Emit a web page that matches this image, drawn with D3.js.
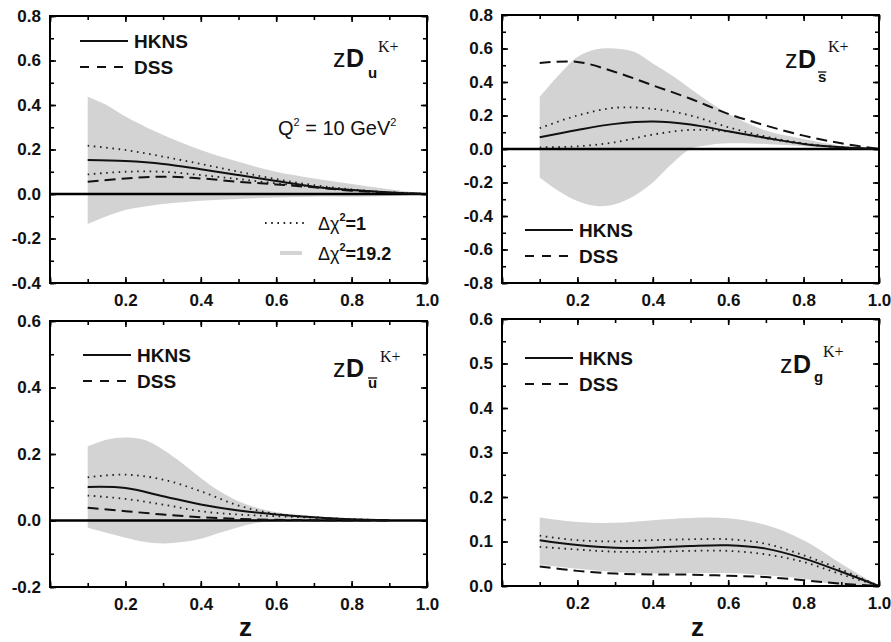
<!DOCTYPE html>
<html>
<head>
<meta charset="utf-8">
<script src="https://cdn.jsdelivr.net/npm/d3@7"></script>
<style>
body { margin:0; background:#fff; }
svg { display:block; }
</style>
</head>
<body>
<div id="chart"></div>
<script>
// z grids
var zLine = [0.1,0.2,0.3,0.4,0.5,0.6,0.7,0.8,0.9,1.0];
var zLineUbar = [0.1,0.2,0.3,0.4,0.5,0.6,0.7,0.8,0.9];
var zBandU = [0.1,0.15,0.2,0.3,0.4,0.5,0.6,0.7,0.8,0.9,1.0];
var zBandS = [0.1,0.15,0.2,0.25,0.3,0.35,0.4,0.45,0.5,0.55,0.6,0.7,0.8,0.9,1.0];
var zBandUbar = [0.1,0.15,0.2,0.25,0.3,0.35,0.4,0.45,0.5,0.55,0.6,0.7,0.8,0.9];

// zD_u
var uHKNS  = [0.153,0.148,0.135,0.111,0.085,0.058,0.033,0.018,0.007,0];
var uDSS   = [0.055,0.070,0.078,0.070,0.055,0.043,0.030,0.015,0.006,0];
var uHi1   = [0.217,0.198,0.168,0.135,0.100,0.067,0.040,0.021,0.008,0];
var uLo1   = [0.088,0.100,0.100,0.085,0.067,0.048,0.033,0.018,0.007,0];
var uBandHi = [0.437,0.400,0.348,0.265,0.198,0.145,0.100,0.070,0.045,0.021,0];
var uBandLo = [-0.135,-0.100,-0.072,-0.045,-0.030,-0.022,-0.016,-0.012,-0.012,-0.009,0];

// zD_sbar
var sHKNS  = [0.070,0.114,0.150,0.164,0.146,0.106,0.066,0.030,0.010,0];
var sDSS   = [0.514,0.520,0.460,0.380,0.300,0.210,0.140,0.080,0.034,0];
var sHi1   = [0.124,0.200,0.246,0.240,0.200,0.130,0.074,0.034,0.010,0];
var sLo1   = [0.010,0.016,0.040,0.086,0.114,0.104,0.064,0.030,0.010,0];
var sBandHi = [0.31,0.44,0.55,0.596,0.60,0.58,0.51,0.44,0.36,0.28,0.21,0.11,0.06,0.02,0];
var sBandLo = [-0.17,-0.25,-0.31,-0.34,-0.33,-0.28,-0.20,-0.09,0.0,0.024,0.034,0.03,0.016,0.004,0];

// zD_ubar
var ubHKNS = [0.101,0.098,0.073,0.048,0.030,0.018,0.010,0.004,0.001];
var ubDSS  = [0.038,0.028,0.018,0.010,0.005,0.002,0.001,0,0];
var ubHi1  = [0.130,0.138,0.123,0.088,0.045,0.020,0.010,0.004,0.001];
var ubLo1  = [0.075,0.065,0.048,0.028,0.018,0.013,0.008,0.003,0.001];
var ubBandHi = [0.223,0.243,0.250,0.243,0.213,0.173,0.128,0.088,0.058,0.038,0.025,0.013,0.006,0.002];
var ubBandLo = [-0.022,-0.037,-0.052,-0.064,-0.069,-0.065,-0.055,-0.037,-0.020,-0.007,-0.002,0,0,0];

// zD_g
var gHKNS  = [0.103,0.092,0.086,0.086,0.090,0.0915,0.084,0.062,0.032,0];
var gDSS   = [0.044,0.034,0.028,0.026,0.0255,0.023,0.020,0.013,0.005,0];
var gHi1   = [0.113,0.103,0.100,0.103,0.105,0.105,0.095,0.069,0.037,0];
var gLo1   = [0.088,0.082,0.077,0.077,0.079,0.079,0.071,0.054,0.026,0];
var gBandHi = [0.154,0.144,0.142,0.148,0.153,0.152,0.137,0.103,0.050,0];
var gBandLo = [0.048,0.039,0.0315,0.028,0.029,0.029,0.024,0.0165,0.0015,0];

var xTickLabels = [0.2,0.4,0.6,0.8,1.0];
var legendNames = ["HKNS","DSS"];

var W = 891, H = 642;
var svg = d3.select("#chart").append("svg").attr("width", W).attr("height", H);

var panels = [
  {x0:50, x1:427, y0:16, y1:283, ydom:[-0.4,0.8], ymaj:0.2, ymin:0.1,
   zl:zLine, hk:uHKNS, ds:uDSS, hi:uHi1, lo:uLo1, zb:zBandU, bh:uBandHi, bl:uBandLo,
   leg:[80,41], sub:"u", bar:false, lab:{zx:333, base:67, subx:368, subBase:78, kx:378, kBase:52}, xt:false},
  {x0:502, x1:879, y0:15, y1:283, ydom:[-0.8,0.8], ymaj:0.2, ymin:0.1,
   zl:zLine, hk:sHKNS, ds:sDSS, hi:sHi1, lo:sLo1, zb:zBandS, bh:sBandHi, bl:sBandLo,
   leg:[525,230], sub:"s", bar:true, lab:{zx:785, base:68, subx:818, subBase:82, kx:828, kBase:52}, xt:false},
  {x0:50, x1:427, y0:321, y1:587, ydom:[-0.2,0.6], ymaj:0.2, ymin:0.1,
   zl:zLineUbar, hk:ubHKNS, ds:ubDSS, hi:ubHi1, lo:ubLo1, zb:zBandUbar, bh:ubBandHi, bl:ubBandLo,
   leg:[83,355], sub:"u", bar:true, lab:{zx:333, base:377, subx:368, subBase:388, kx:380, kBase:362}, xt:true},
  {x0:502, x1:879, y0:319, y1:586, ydom:[0,0.6], ymaj:0.1, ymin:0.05,
   zl:zLine, hk:gHKNS, ds:gDSS, hi:gHi1, lo:gLo1, zb:zLine, bh:gBandHi, bl:gBandLo,
   leg:[525,358], sub:"g", bar:false, lab:{zx:780, base:373, subx:814, subBase:382, kx:823, kBase:357}, xt:true}
];

function steps(lo, hi, st){
  var n = Math.round((hi - lo) / st), out = [];
  for (var i = 0; i <= n; i++) out.push(+(lo + i*st).toFixed(4));
  return out;
}
function fmt(d){ return Math.abs(d) < 1e-9 ? "0.0" : d.toFixed(1); }

function styleTicks(g){
  g.select(".domain").remove();
  g.selectAll("line").attr("stroke","#000").attr("stroke-width",1.6);
  g.selectAll("text").attr("fill","#111")
    .style("font-family","'Liberation Sans', Arial, sans-serif")
    .style("font-weight","bold").style("font-size","17px");
}

panels.forEach(function(p){
  var x = d3.scaleLinear().domain([0,1]).range([p.x0,p.x1]);
  var y = d3.scaleLinear().domain(p.ydom).range([p.y1,p.y0]);
  var g = svg.append("g");

  // band (delta chi2 = 19.2)
  var area = d3.area().curve(d3.curveCatmullRom)
    .x(function(d,i){ return x(p.zb[i]); })
    .y0(function(d,i){ return y(p.bl[i]); })
    .y1(function(d,i){ return y(p.bh[i]); });
  g.append("path").datum(p.bh).attr("d", area).attr("fill","#d3d3d3");

  // zero line
  if (p.ydom[0] < 0) {
    g.append("line").attr("x1",x(0)).attr("x2",x(1)).attr("y1",y(0)).attr("y2",y(0))
      .attr("stroke","#000").attr("stroke-width",2.6);
  }

  var line = d3.line().curve(d3.curveCatmullRom)
    .x(function(d,i){ return x(p.zl[i]); })
    .y(function(d){ return y(d); });

  [p.hi, p.lo].forEach(function(arr){
    g.append("path").datum(arr).attr("d", line).attr("fill","none")
      .attr("stroke","#222").attr("stroke-width",1.8).attr("stroke-dasharray","1.6,4.6");
  });
  g.append("path").datum(p.ds).attr("d", line).attr("fill","none")
    .attr("stroke","#111").attr("stroke-width",2).attr("stroke-dasharray","11,6");
  g.append("path").datum(p.hk).attr("d", line).attr("fill","none")
    .attr("stroke","#111").attr("stroke-width",2);

  // axes, ticks inward
  var xMaj = steps(0,1,0.2), xMin = steps(0,1,0.1);
  var yMaj = steps(p.ydom[0],p.ydom[1],p.ymaj), yMin = steps(p.ydom[0],p.ydom[1],p.ymin);

  g.append("g").attr("transform","translate(0,"+p.y1+")")
    .call(d3.axisBottom(x).tickValues(xMin).tickSize(-4).tickFormat("")).call(styleTicks);
  g.append("g").attr("transform","translate(0,"+p.y1+")")
    .call(d3.axisBottom(x).tickValues(xMaj).tickSize(-6).tickPadding(11)
      .tickFormat(function(d){ return xTickLabels.indexOf(d) >= 0 ? d.toFixed(1) : ""; }))
    .call(styleTicks);
  g.append("g").attr("transform","translate(0,"+p.y0+")")
    .call(d3.axisTop(x).tickValues(xMin).tickSize(-4).tickFormat("")).call(styleTicks);
  g.append("g").attr("transform","translate(0,"+p.y0+")")
    .call(d3.axisTop(x).tickValues(xMaj).tickSize(-6).tickFormat("")).call(styleTicks);

  g.append("g").attr("transform","translate("+p.x0+",0)")
    .call(d3.axisLeft(y).tickValues(yMin).tickSize(-4).tickFormat("")).call(styleTicks);
  g.append("g").attr("transform","translate("+p.x0+",0)")
    .call(d3.axisLeft(y).tickValues(yMaj).tickSize(-6).tickPadding(9).tickFormat(fmt)).call(styleTicks);
  g.append("g").attr("transform","translate("+p.x1+",0)")
    .call(d3.axisRight(y).tickValues(yMin).tickSize(-4).tickFormat("")).call(styleTicks);
  g.append("g").attr("transform","translate("+p.x1+",0)")
    .call(d3.axisRight(y).tickValues(yMaj).tickSize(-6).tickFormat("")).call(styleTicks);

  g.append("rect").attr("x",p.x0).attr("y",p.y0).attr("width",p.x1-p.x0).attr("height",p.y1-p.y0)
    .attr("fill","none").attr("stroke","#000").attr("stroke-width",2);

  // legend
  var lx = p.leg[0], ly = p.leg[1];
  legendNames.forEach(function(name, i){
    var yy = ly + i*26;
    g.append("line").attr("x1",lx).attr("x2",lx+48).attr("y1",yy).attr("y2",yy)
      .attr("stroke","#111").attr("stroke-width",2)
      .attr("stroke-dasharray", i ? "9,8" : null);
    g.append("text").attr("x",lx+54).attr("y",yy+7).text(name)
      .style("font-family","'Liberation Sans', Arial, sans-serif")
      .style("font-weight","bold").style("font-size","19px").attr("fill","#111");
  });

  // label zD_q^K+
  var L = p.lab;
  g.append("text").attr("x",L.zx).attr("y",L.base).text("z")
    .style("font-family","'Liberation Sans', Arial, sans-serif").style("font-size","25px").attr("fill","#111");
  g.append("text").attr("x",L.zx+13).attr("y",L.base).text("D")
    .style("font-family","'Liberation Sans', Arial, sans-serif").style("font-weight","bold").style("font-size","25px").attr("fill","#111");
  var st = g.append("text").attr("x",L.subx).attr("y",L.subBase).text(p.sub)
    .style("font-family","'Liberation Sans', Arial, sans-serif").style("font-weight","bold").style("font-size","15px").attr("fill","#111");
  if (p.bar) {
    var w = st.node().getComputedTextLength();
    g.append("line").attr("x1",L.subx).attr("x2",L.subx+w)
      .attr("y1",L.subBase-10).attr("y2",L.subBase-10).attr("stroke","#111").attr("stroke-width",1.3);
  }
  g.append("text").attr("x",L.kx).attr("y",L.kBase).text("K+")
    .style("font-family","'Liberation Serif', 'Times New Roman', serif").style("font-size","16px").attr("fill","#111");

  if (p.xt) {
    g.append("text").attr("x",(p.x0+p.x1)/2+7).attr("y",636).attr("text-anchor","middle").text("z")
      .style("font-family","'Liberation Sans', Arial, sans-serif").style("font-weight","bold").style("font-size","26px").attr("fill","#111");
  }
});

// Q^2 annotation
var q = svg.append("text").attr("x",278).attr("y",135)
  .style("font-family","'Liberation Sans', Arial, sans-serif").style("font-size","20px").attr("fill","#111");
q.append("tspan").text("Q");
q.append("tspan").attr("dy",-9).style("font-size","11px").text("2");
q.append("tspan").attr("dy",9).text(" = 10 GeV");
q.append("tspan").attr("dy",-9).style("font-size","11px").text("2");

// chi2 legend
var chiRows = [{label:"=1", y:230, kind:"dot"}, {label:"=19.2", y:260, kind:"band"}];
chiRows.forEach(function(r){
  if (r.kind === "dot") {
    svg.append("line").attr("x1",265).attr("x2",304).attr("y1",r.y-7).attr("y2",r.y-7)
      .attr("stroke","#222").attr("stroke-width",1.8).attr("stroke-dasharray","1.6,4.6");
  } else {
    svg.append("line").attr("x1",280).attr("x2",302).attr("y1",r.y-7).attr("y2",r.y-7)
      .attr("stroke","#d3d3d3").attr("stroke-width",4);
  }
  var t = svg.append("text").attr("x",318).attr("y",r.y)
    .style("font-family","'Liberation Sans', Arial, sans-serif").style("font-size","18px").attr("fill","#111");
  t.append("tspan").text("\u0394\u03c7");
  t.append("tspan").attr("dy",-9).style("font-size","11px").style("font-weight","bold").text("2");
  t.append("tspan").attr("dy",9).style("font-weight","bold").text(r.label);
});
</script>
</body>
</html>
